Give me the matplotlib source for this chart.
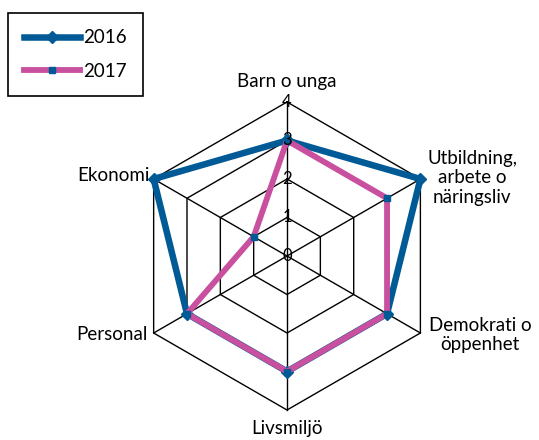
import matplotlib
matplotlib.use('Agg')
import matplotlib.pyplot as plt
import numpy as np

categories = ['Barn o unga', 'Utbildning,\narbete o\nnäringsliv', 'Demokrati o\nöppenhet',
              'Livsmiljö', 'Personal', 'Ekonomi']
values_2016 = [3, 4, 3, 3, 3, 4]
values_2017 = [3, 3, 3, 3, 3, 1]
levels = [0, 1, 2, 3, 4]

blue = '#005a96'
pink = '#c8509e'

plt.rcParams['font.family'] = ['Lato', 'DejaVu Sans']

angles = np.deg2rad(90 - 60 * np.arange(len(categories)))

def to_xy(vals):
    v = np.array(vals + vals[:1], dtype=float)
    a = np.concatenate([angles, angles[:1]])
    return v * np.cos(a), v * np.sin(a)

fig = plt.figure(figsize=[5.39, 4.40], dpi=100)
ax = fig.add_axes([0, 0, 1, 1])
ax.set_xlim(-7.455, 6.545)
ax.set_ylim(-4.779, 6.649)
ax.axis('off')

# hexagon grid
for lv in levels[1:]:
    gx, gy = to_xy([lv] * len(categories))
    ax.plot(gx, gy, color='k', lw=1.0, zorder=1)
for a in angles:
    ax.plot([0, levels[-1] * np.cos(a)], [0, levels[-1] * np.sin(a)], color='k', lw=1.0, zorder=1)

# series
x16, y16 = to_xy(values_2016)
x17, y17 = to_xy(values_2017)
ax.plot(x16, y16, color=blue, lw=4.7, marker='D', ms=6.5, mfc=blue, mec=blue, label='2016', zorder=3)
ax.plot(x17, y17, color=pink, lw=4.2, marker='s', ms=4.5, mfc=blue, mec=blue, label='2017', zorder=4)

# scale labels
for lv in levels:
    ax.text(0, lv, str(lv), ha='center', va='center', fontsize=12, zorder=5)

# category labels
fs = 13.5
ax.text(0, 4.52, categories[0], ha='center', va='center', fontsize=fs)
ax.text(4.81, 2.03, categories[1], ha='center', va='center', fontsize=fs, linespacing=1.2)
ax.text(5.01, -2.05, categories[2], ha='center', va='center', fontsize=fs, linespacing=1.2)
ax.text(0, -4.47, categories[3], ha='center', va='center', fontsize=fs)
ax.text(-3.61, -2.05, categories[4], ha='right', va='center', fontsize=fs)
ax.text(-3.56, 2.08, categories[5], ha='right', va='center', fontsize=fs)

leg = ax.legend(loc='upper left', bbox_to_anchor=(0.015, 0.970), fancybox=False,
                edgecolor='k', fontsize=13.5, handlelength=3.0, handletextpad=0.15,
                labelspacing=0.9, borderpad=0.85, borderaxespad=0, framealpha=1)
leg.get_frame().set_linewidth(1.2)

plt.savefig('out.png', dpi=100)
